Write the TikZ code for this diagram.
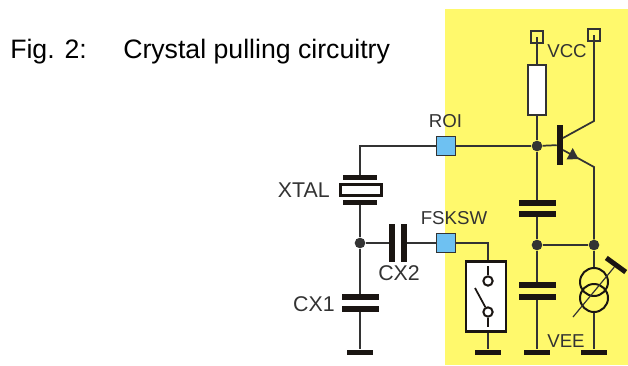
\documentclass[tikz,border=0pt]{standalone}
\usepackage{fontspec}
\setmainfont{Liberation Sans}
\definecolor{zoneyellow}{HTML}{FFF96C}
\definecolor{padblue}{HTML}{6EC1F2}
\definecolor{wirecol}{HTML}{333333}
\definecolor{platecol}{HTML}{1A1512}
\begin{document}
\begin{tikzpicture}[
    x=0.75pt, y=-0.75pt,
    wire/.style={draw=wirecol, line width=1.3pt},
    thinwire/.style={draw=wirecol, line width=0.9pt},
    plate/.style={rectangle, fill=platecol, inner sep=0pt, minimum width=27.75pt, minimum height=4.5pt},
    vplate/.style={rectangle, fill=platecol, inner sep=0pt, minimum width=4.5pt, minimum height=28.5pt},
    groundbar/.style={rectangle, fill=platecol, inner sep=0pt, minimum width=19.5pt, minimum height=3.75pt},
    joint/.style={circle, fill=wirecol, inner sep=0pt, minimum size=8pt},
    pad/.style={rectangle, draw=wirecol, line width=0.9pt, fill=padblue, inner sep=0pt, minimum size=14.5pt},
    pin/.style={rectangle, draw=wirecol, line width=1.7pt, inner sep=0pt, minimum size=8.5pt},
    contact/.style={circle, draw=platecol, line width=1.5pt, fill=white, inner sep=0pt, minimum size=7pt},
    loop/.style={circle, draw=platecol, line width=1.5pt, inner sep=0pt, minimum size=21pt},
    label/.style={text=wirecol, inner sep=0pt, font=\fontsize{16}{18}\selectfont},
    smalllabel/.style={text=wirecol, inner sep=0pt, font=\fontsize{14}{16}\selectfont},
    title/.style={text=black, inner sep=0pt, anchor=base west, font=\fontsize{20}{23}\selectfont}
]
    \useasboundingbox (0,0) rectangle (628,365);
    \fill[zoneyellow] (445,9) rectangle (628,365);

    \node[title] (figno) at (10,58) {Fig. 2:};
    \node[title] (figtitle) at (123,58) {Crystal pulling circuitry};

    % supply side
    \node[pin] (vccpin) at (537,37) {};
    \node[pin] (colpin) at (594,35) {};
    \node[rectangle, draw=wirecol, line width=1.3pt, fill=white, inner sep=0pt, minimum width=13pt, minimum height=38pt] (rload) at (537,90) {};
    \node[joint] (basejoint) at (537,146) {};
    \node[rectangle, fill=platecol, inner sep=0pt, minimum width=4.5pt, minimum height=30pt] (tbar) at (560,145) {};
    \coordinate (colstart) at (563,138);
    \coordinate (colknee) at (594,121);
    \coordinate (emstart) at (563,150);
    \coordinate (emknee) at (594,167);
    \node[plate] (capatop) at (537,203) {};
    \node[plate] (capabot) at (537,214) {};
    \node[joint] (midjoint) at (537,245) {};
    \node[joint] (rightjoint) at (594,245) {};
    \node[plate] (capbtop) at (537,285) {};
    \node[plate] (capbbot) at (537,297) {};
    \node[groundbar] (gndmid) at (537,352) {};
    \node[groundbar] (gndright) at (594,352) {};
    \node[loop] (srcup) at (594,282) {};
    \node[loop] (srcdown) at (594,298) {};
    \node[rectangle, fill=platecol, inner sep=0pt, minimum width=18pt, minimum height=3.75pt, rotate=-36] (srcbar) at (616,265) {};
    \coordinate (srctail) at (573,317);

    % switch
    \node[rectangle, draw=platecol, line width=2.2pt, fill=white, inner sep=0pt, minimum width=30pt, minimum height=53pt] (swbox) at (486,296.5) {};
    \node[contact] (swtop) at (488,281) {};
    \node[contact] (swbot) at (488,312) {};
    \coordinate (swtopend) at (488,266);
    \coordinate (swbotend) at (488,327);
    \coordinate (swblade) at (475,288);
    \coordinate (swin) at (488,260);
    \coordinate (swout) at (488,333);
    \node[groundbar] (gndsw) at (488,352) {};

    % crystal side
    \node[pad] (roipad) at (446,146) {};
    \node[pad] (fskpad) at (446,243) {};
    \node[rectangle, fill=platecol, inner sep=0pt, minimum width=25.5pt, minimum height=3.75pt] (xtaltop) at (360,177.5) {};
    \node[rectangle, draw=platecol, line width=2pt, fill=white, inner sep=0pt, minimum width=31pt, minimum height=8pt] (xtalbox) at (361,190) {};
    \node[rectangle, fill=platecol, inner sep=0pt, minimum width=25.5pt, minimum height=3.75pt] (xtalbot) at (360,202.5) {};
    \node[joint] (xjoint) at (360,243) {};
    \node[vplate] (cxtwoa) at (392,243) {};
    \node[vplate] (cxtwob) at (404,243) {};
    \node[plate] (cxonetop) at (360,297) {};
    \node[plate] (cxonebot) at (360,309) {};
    \node[groundbar] (gndleft) at (360,352) {};

    % wires
    \draw[wire] (vccpin.center) -- (rload);
    \draw[wire] (rload) -- (basejoint);
    \draw[wire] (roipad) -- (basejoint);
    \draw[wire] (basejoint) -- (tbar);
    \draw[wire] (basejoint) -- (capatop);
    \draw[wire] (capabot) -- (midjoint);
    \draw[wire] (midjoint) -- (capbtop);
    \draw[wire] (capbbot) -- (gndmid);
    \draw[wire] (midjoint) -- (rightjoint);
    \draw[wire] (colstart) -- (colknee) -- (colpin.center);
    \draw[wire] (emstart) -- (emknee) -- (rightjoint);
    \fill[wirecol] (572.7,148) -- (578.5,159) -- (566.5,159.5) -- cycle;
    \draw[wire] (rightjoint) -- (srcup);
    \draw[wire] (srcdown) -- (gndright);
    \draw[thinwire] (srctail) -- (srcbar);
    \draw[wire] (fskpad) -| (swin);
    \draw[wire] (swout) -- (gndsw);
    \draw[wire, draw=platecol] (swtopend) -- (swtop);
    \draw[wire, draw=platecol] (swbot) -- (swbotend);
    \draw[wire, draw=platecol] (swbot) -- (swblade);
    \draw[wire] (roipad) -| (xtaltop);
    \draw[wire] (xtalbot) -- (xjoint);
    \draw[wire] (xjoint) -- (cxonetop);
    \draw[wire] (cxonebot) -- (gndleft);
    \draw[wire] (xjoint) -- (cxtwoa);
    \draw[wire] (cxtwob) -- (fskpad);

    % labels
    \node[smalllabel] (vcclabel) at (567,51) {VCC};
    \node[smalllabel] (veelabel) at (566,341) {VEE};
    \node[smalllabel] (roilabel) at (445.5,121) {ROI};
    \node[smalllabel] (fsklabel) at (454,218) {FSKSW};
    \node[label, anchor=east] (xtallabel) at (330,190) {XTAL};
    \node[label] (cxtwolabel) at (399,273) {CX2};
    \node[label, anchor=east] (cxonelabel) at (335,304) {CX1};
\end{tikzpicture}
\end{document}
